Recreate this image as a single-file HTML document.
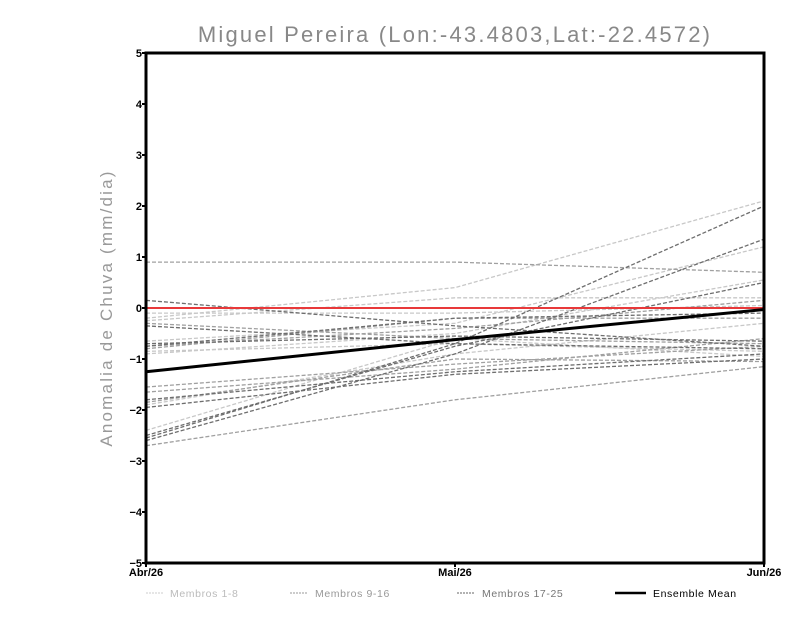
<!DOCTYPE html>
<html><head><meta charset="utf-8"><style>
body{margin:0;background:#fff;width:800px;height:618px;overflow:hidden;font-family:"Liberation Sans",sans-serif}
</style></head><body>
<svg width="800" height="618">
<text x="455" y="42" text-anchor="middle" font-size="22" fill="#888" style="letter-spacing:2.2px">Miguel Pereira (Lon:-43.4803,Lat:-22.4572)</text>
<text transform="translate(112,308) rotate(-90)" text-anchor="middle" font-size="17" fill="#999" style="letter-spacing:2.2px">Anomalia de Chuva (mm/dia)</text>
<g id="grid"></g><g id="lines"></g>
<rect x="146" y="53" width="618" height="510" fill="none" stroke="#000" stroke-width="3"/>
<g id="axes"></g>
<g font-size="10.5" style="letter-spacing:0.6px">
<line x1="146" y1="593" x2="164" y2="593" stroke="#ccc" stroke-dasharray="2,1"/>
<text x="170" y="597" fill="#bbb">Membros 1-8</text>
<line x1="290" y1="593" x2="308" y2="593" stroke="#999" stroke-dasharray="2,1"/>
<text x="315" y="597" fill="#999">Membros 9-16</text>
<line x1="457" y1="593" x2="475" y2="593" stroke="#666" stroke-dasharray="2,1"/>
<text x="482" y="597" fill="#777">Membros 17-25</text>
<line x1="615" y1="593" x2="646" y2="593" stroke="#000" stroke-width="2.5"/>
<text x="653" y="597" fill="#000">Ensemble Mean</text>
</g>
</svg>
<script>
const categories=["Abr/26","Mai/26","Jun/26"];
const yTicks=[-5,-4,-3,-2,-1,0,1,2,3,4,5];
const members1to8=[[-0.2,0.4,2.1],[-0.65,-0.3,1.2],[-0.9,-0.5,0.55],[-0.25,0.2,0.2],[-1.9,-0.9,-0.3],[-0.85,-0.7,-0.85],[-2.4,-0.6,-0.95],[-0.1,-0.1,0.05]];
const members9to16=[[0.9,0.9,0.7],[-0.75,-0.4,0.15],[-1.55,-1.1,-0.75],[-0.8,-0.2,-0.2],[-2.7,-1.8,-1.15],[-1.65,-1.2,-0.6],[-0.3,-0.6,-0.7],[-1.85,-1.0,-1.05]];
const members17to25=[[-2.55,-0.7,2.0],[-2.6,-0.9,1.35],[-2.5,-0.75,0.5],[0.15,-0.35,-0.75],[-0.35,-0.7,-0.8],[-1.8,-1.25,-0.9],[-0.7,-0.55,-0.65],[-1.95,-1.3,-1.0],[-0.75,-0.2,-0.1]];
const ensembleMean=[-1.25,-0.62,-0.03];
const NS="http://www.w3.org/2000/svg";
const X0=146,X1=764,Y0=563,Y1=53;
function xs(i){return X0+(X1-X0)*i/(categories.length-1);}
function ys(v){return Y0-(v+5)/10*(Y0-Y1);}
const lines=document.getElementById('lines'),axes=document.getElementById('axes');
function mk(tag,attrs,parent){const e=document.createElementNS(NS,tag);for(const k in attrs)e.setAttribute(k,attrs[k]);parent.appendChild(e);return e;}
function pts(a){return a.map((v,i)=>xs(i)+","+ys(v)).join(" ");}
[[members1to8,"#c8c8c8","member-1-8"],[members9to16,"#a0a0a0","member-9-16"],[members17to25,"#6e6e6e","member-17-25"]].forEach(([arr,c,n])=>{
arr.forEach(a=>{const p=mk('polyline',{points:pts(a),fill:"none",stroke:c,"stroke-width":1.3,"stroke-dasharray":"4,2"},lines);

});});
const z=mk('line',{x1:X0,x2:X1,y1:ys(0),y2:ys(0),stroke:"#e8393a","stroke-width":2},lines);


const m=mk('polyline',{points:pts(ensembleMean),fill:"none",stroke:"#000","stroke-width":3},lines);


yTicks.forEach(v=>{const t=mk('text',{x:X0-4,y:ys(v)+4,"text-anchor":"end","font-size":11,"font-weight":"bold"},axes);t.textContent=v<0?"\u2212"+(-v):v;


const l=mk('line',{x1:X0-4,x2:X0,y1:ys(v),y2:ys(v),stroke:"#000","stroke-width":2},axes);

});
categories.forEach((c,i)=>{const t=mk('text',{x:xs(i),y:Y0+13,"text-anchor":"middle","font-size":11,"font-weight":"bold"},axes);t.textContent=c;


const l=mk('line',{x1:xs(i),x2:xs(i),y1:Y0,y2:Y0+4,stroke:"#000","stroke-width":2},axes);

});
</script>
</body></html>
